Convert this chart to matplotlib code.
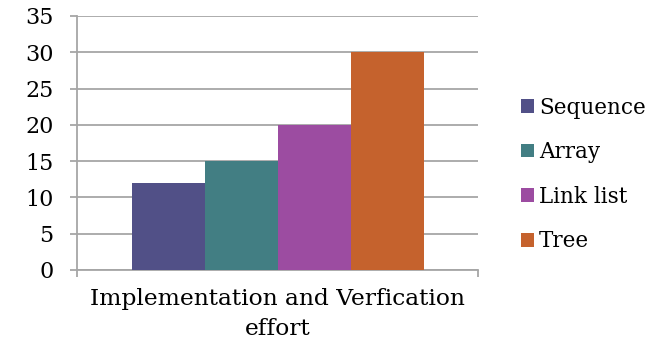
import matplotlib.pyplot as plt
import numpy as np
from matplotlib.patches import Patch

# Effort per data structure
categories = ["Implementation and Verfication\neffort"]
series = ["Sequence", "Array", "Link list", "Tree"]
values = [12, 15, 20, 30]
colors = ["#515087", "#427E83", "#9C4CA1", "#C5622D"]

plt.rcParams["font.family"] = ["DejaVu Serif"]
grid_gray = "#A6A6A6"

fig = plt.figure(figsize=(6.55, 3.45), dpi=100)
ax = fig.add_axes([77 / 655, 75 / 345, 401 / 655, 254 / 345])

width = 73 / 401
n = len(series)
offsets = (np.arange(n) - (n - 1) / 2) * width
for off, val, col, name in zip(offsets, values, colors, series):
    ax.bar(0 + off, val, width=width, color=col, label=name, zorder=3)

ax.set_xlim(-0.5, 0.5)
ax.set_ylim(0, 35)
ax.set_yticks(range(0, 36, 5))
ax.yaxis.grid(True, color=grid_gray, linewidth=1.3, zorder=0)

for side in ["top", "right"]:
    ax.spines[side].set_visible(False)
for side in ["left", "bottom"]:
    ax.spines[side].set_color(grid_gray)
    ax.spines[side].set_linewidth(1.3)

# category boundary ticks, label on a minor tick in the middle
ax.set_xticks([-0.5, 0.5])
ax.set_xticklabels([])
ax.set_xticks([0], minor=True)
ax.set_xticklabels(categories, minor=True, fontsize=16.8, linespacing=1.45)
ax.tick_params(axis="x", which="major", length=5, width=1.3, color=grid_gray)
ax.tick_params(axis="x", which="minor", length=0, pad=13)
ax.tick_params(axis="y", length=5, width=1.3, color=grid_gray, pad=12, labelsize=16)

handles = [Patch(facecolor=c, edgecolor="none") for c in colors]
fig.legend(handles, series, loc="upper left", bbox_to_anchor=(512 / 655, 1 - 88 / 345),
           frameon=False, fontsize=15.5, handlelength=0.6, handleheight=0.6,
           handletextpad=0.25, labelspacing=1.05, borderaxespad=0)

fig.savefig("out.png", dpi=100, facecolor="white")
